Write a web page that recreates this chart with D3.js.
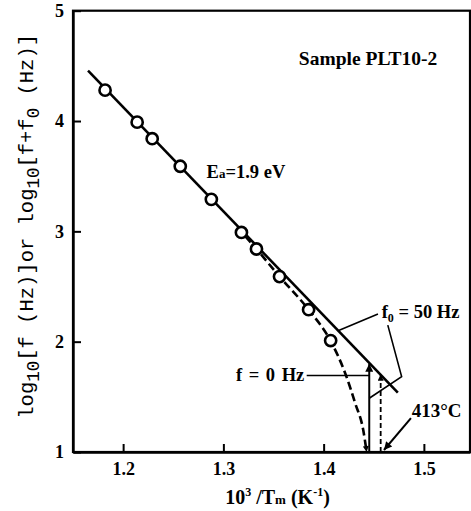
<!DOCTYPE html>
<html>
<head>
<meta charset="utf-8">
<script src="https://cdn.jsdelivr.net/npm/d3@7/dist/d3.min.js"></script>
<style>
  html, body { margin: 0; padding: 0; background: #fff; }
  svg { display: block; }
  .serif { font-family: "Liberation Serif", "Times New Roman", serif; font-weight: bold; fill: #000; }
  .mono { font-family: "Liberation Mono", "Courier New", monospace; fill: #000; }
</style>
</head>
<body>
<svg id="chart" width="471" height="511"></svg>
<script>
// ---- data ----
const xTicks = [1.2, 1.3, 1.4, 1.5];
const yTicks = [1, 2, 3, 4, 5];
// measured points (10^3/Tm, log10 f)
const invT = [1.182, 1.214, 1.229, 1.257, 1.288, 1.318, 1.333, 1.356, 1.385, 1.407];
const logF = [4.28, 3.99, 3.84, 3.59, 3.29, 2.99, 2.84, 2.59, 2.29, 2.01];
// straight fit line (Ea = 1.9 eV) for f + f0
const fitX = [1.165, 1.474];
const fitY = [4.457, 1.538];
// dashed curve for f (f0 = 0)
const curveX = [1.322, 1.333, 1.356, 1.385, 1.407, 1.4215, 1.4315, 1.4395, 1.4429];
const curveY = [2.955, 2.84, 2.59, 2.29, 2.006, 1.714, 1.442, 1.199, 1.0];
// vertical marker lines
const solidVertX = [1.4455, 1.4455], solidVertY = [1.0, 1.80];
const dashVertX = [1.4569, 1.4569], dashVertY = [1.0, 1.70];
// annotation pointers
const f0PtrX = [1.4542, 1.4150], f0PtrY = [2.251, 2.102];
const f0Ptr2X = [1.4640, 1.4778, 1.4455], f0Ptr2Y = [2.150, 1.683, 1.487];
const fzeroPtrX = [1.3831, 1.4455], fzeroPtrY = [1.693, 1.693];
const tempPtrX = [1.4871, 1.4602], tempPtrY = [1.308, 1.018];

// ---- layout ----
const svg = d3.select("#chart");
const x = d3.scaleLinear().domain([1.15, 1.546]).range([73, 470]);
const y = d3.scaleLinear().domain([1, 5]).range([452, 10.7]);

// defs: arrowheads
const defs = svg.append("defs");
defs.append("marker").attr("id", "arr").attr("viewBox", "0 0 10 10")
  .attr("refX", 10).attr("refY", 5).attr("markerWidth", 10).attr("markerHeight", 8)
  .attr("markerUnits", "userSpaceOnUse").attr("orient", "auto")
  .append("path").attr("d", "M0,0 L10,5 L0,10 Z").attr("fill", "#000");
defs.append("marker").attr("id", "arrS").attr("viewBox", "0 0 10 10")
  .attr("refX", 10).attr("refY", 5).attr("markerWidth", 8).attr("markerHeight", 6)
  .attr("markerUnits", "userSpaceOnUse").attr("orient", "auto")
  .append("path").attr("d", "M0,0 L10,5 L0,10 Z").attr("fill", "#000");

// frame
svg.append("rect")
  .attr("x", x(1.15)).attr("y", y(5))
  .attr("width", x(1.546) - x(1.15)).attr("height", y(1) - y(5))
  .attr("fill", "none").attr("stroke", "#000").attr("stroke-width", 2.2);

// axes
const xAxis = d3.axisBottom(x).tickValues(xTicks).tickFormat(d3.format(".1f"))
  .tickSize(-8).tickSizeOuter(0).tickPadding(10);
const gx = svg.append("g").attr("transform", `translate(0,${y(1)})`).call(xAxis);
const yAxis = d3.axisLeft(y).tickValues(yTicks).tickFormat(d3.format("d"))
  .tickSize(-8).tickSizeOuter(0).tickPadding(9);
const gy = svg.append("g").attr("transform", `translate(${x(1.15)},0)`).call(yAxis);
[gx, gy].forEach(g => {
  g.select(".domain").attr("stroke", "#000").attr("stroke-width", 2.4);
  g.selectAll(".tick line").attr("stroke", "#000").attr("stroke-width", 2);
  g.selectAll(".tick text").attr("class", "serif").attr("font-size", 18)
    .style("font-family", '"Liberation Serif", serif').style("font-weight", "bold").attr("fill", "#000");
});

const line = d3.line().x(d => x(d[0])).y(d => y(d[1]));
const zip = (a, b) => a.map((v, i) => [v, b[i]]);

// fit line
svg.append("path").attr("d", line(zip(fitX, fitY)))
  .attr("fill", "none").attr("stroke", "#000").attr("stroke-width", 2.6);

// dashed curve
svg.append("path").attr("d", d3.line().curve(d3.curveMonotoneX).x(d => x(d[0])).y(d => y(d[1]))(zip(curveX, curveY)))
  .attr("fill", "none").attr("stroke", "#000").attr("stroke-width", 2.6)
  .attr("stroke-dasharray", "8,4").attr("marker-end", "url(#arrS)");

// vertical lines
svg.append("path").attr("d", line(zip(solidVertX, solidVertY)))
  .attr("fill", "none").attr("stroke", "#000").attr("stroke-width", 2).attr("marker-end", "url(#arr)");
svg.append("path").attr("d", line(zip(dashVertX, dashVertY)))
  .attr("fill", "none").attr("stroke", "#000").attr("stroke-width", 1.8)
  .attr("stroke-dasharray", "5,3").attr("marker-end", "url(#arrS)");

// pointers
svg.append("path").attr("d", line(zip(f0PtrX, f0PtrY))).attr("fill", "none").attr("stroke", "#000").attr("stroke-width", 1.6);
svg.append("path").attr("d", line(zip(f0Ptr2X, f0Ptr2Y))).attr("fill", "none").attr("stroke", "#000").attr("stroke-width", 1.6);
svg.append("path").attr("d", line(zip(fzeroPtrX, fzeroPtrY))).attr("fill", "none").attr("stroke", "#000").attr("stroke-width", 1.6);
svg.append("path").attr("d", line(zip(tempPtrX, tempPtrY))).attr("fill", "none").attr("stroke", "#000").attr("stroke-width", 2).attr("marker-end", "url(#arr)");

// points
svg.append("g").selectAll("circle").data(zip(invT, logF)).join("circle")
  .attr("cx", d => x(d[0])).attr("cy", d => y(d[1])).attr("r", 5.6)
  .attr("fill", "#fff").attr("stroke", "#000").attr("stroke-width", 2.6);

// texts
svg.append("text").attr("class", "serif").attr("font-size", 19.5)
  .attr("x", x(1.3753)).attr("y", y(4.509)).text("Sample PLT10-2");

const ea = svg.append("text").attr("class", "serif").attr("font-size", 18.5)
  .attr("x", x(1.2832)).attr("y", y(3.484));
ea.append("tspan").text("E");
ea.append("tspan").attr("font-size", 13).text("a");
ea.append("tspan").text("=1.9 eV");

svg.append("text").attr("class", "serif").attr("font-size", 18.5).attr("word-spacing", 2)
  .attr("x", x(1.3125)).attr("y", y(1.644)).text("f = 0 Hz");

const f0 = svg.append("text").attr("class", "serif").attr("font-size", 18.5)
  .attr("x", x(1.4579)).attr("y", y(2.215));
f0.append("tspan").text("f");
f0.append("tspan").attr("font-size", 12).attr("dy", 4).text("0");
f0.append("tspan").attr("dy", -4).text(" = 50 Hz");

svg.append("text").attr("class", "serif").attr("font-size", 19)
  .attr("x", x(1.4878)).attr("y", y(1.317)).text("413°C");

// x title
const xt = svg.append("text").attr("class", "serif").attr("font-size", 20)
  .attr("x", (x(1.15) + x(1.546)) / 2 + 6).attr("y", 504).attr("text-anchor", "middle");
xt.append("tspan").text("10");
xt.append("tspan").attr("font-size", 12).attr("dy", -8).text("3");
xt.append("tspan").attr("dy", 8).text(" /T");
xt.append("tspan").attr("font-size", 13).text("m");
xt.append("tspan").text(" (K");
xt.append("tspan").attr("font-size", 12).attr("dy", -8).text("-1");
xt.append("tspan").attr("dy", 8).text(")");

// y title
const yt = svg.append("text").attr("class", "mono").attr("font-size", 20.5)
  .attr("transform", `translate(33,${(y(1) + y(5)) / 2 - 5}) rotate(-90)`)
  .attr("text-anchor", "middle");
yt.append("tspan").text("log");
yt.append("tspan").attr("font-size", 17.5).attr("dy", 6).text("10");
yt.append("tspan").attr("dy", -6).text("[f (Hz)]or log");
yt.append("tspan").attr("font-size", 17.5).attr("dy", 6).text("10");
yt.append("tspan").attr("dy", -6).text("[f+f");
yt.append("tspan").attr("font-size", 17.5).attr("dy", 6).text("0");
yt.append("tspan").attr("dy", -6).text(" (Hz)]");
</script>
</body>
</html>
